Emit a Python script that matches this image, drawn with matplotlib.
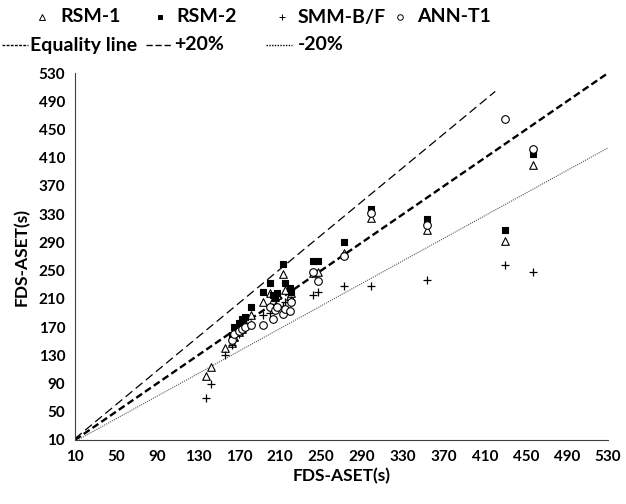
import matplotlib
matplotlib.use("Agg")
import matplotlib.pyplot as plt
from matplotlib.lines import Line2D

plt.rcParams['font.family'] = ['Lato', 'DejaVu Sans']
plt.rcParams['font.weight'] = 'bold'

# FDS-ASET (x) and predicted ASET (y) for each model
fds = [138, 143, 156, 163, 165, 170, 173, 176, 182, 193, 200, 203, 205,
       207, 213, 215, 220, 221, 242, 247, 272, 299, 353, 430, 457]
rsm1 = [101, 113, 141, 147, 156, 163, 168, 175, 187, 205, 219, 208, 212,
        215, 245, 222, 214, 218, 247, 248, 275, 324, 307, 292, 400]
rsm2 = [None, None, None, 159, 170, 176, 182, 185, 198, 220, 233, 215, 211,
        218, 259, 232, 226, 220, 264, 264, 290, 338, 323, 308, 415]
smm = [69, 89, 130, 145, 152, 160, 165, 170, 175, 187, 190, 196, 200,
       198, 200, 205, 206, 208, 215, 220, 228, 228, 237, 258, 248]
ann = [None, None, None, 152, 160, 165, 167, 170, 173, 173, 199, 181, 194,
       199, 189, 196, 193, 205, 248, 236, 271, 332, 314, 465, 422]

eq_x = [10, 530]
plus_x = [10, 420]
minus_x = [10, 530]

fig = plt.figure(figsize=(6.26, 5.04), dpi=100)
ax = fig.add_axes([0.1198, 0.127, 0.8514, 0.728])

def pts(vals):
    xs = [x for x, v in zip(fds, vals) if v is not None]
    ys = [v for v in vals if v is not None]
    return xs, ys

ax.plot(eq_x, eq_x, linestyle=(0, (3, 1.5)), color='black', lw=1.7, zorder=2)
ax.plot(plus_x, [v * 1.2 for v in plus_x], linestyle=(0, (7, 3.5)), color='black', lw=0.9, zorder=2)
ax.plot(minus_x, [v * 0.8 for v in minus_x], linestyle=(0, (1, 1)), color='#555555', lw=0.8, zorder=2)

x, y = pts(rsm1)
ax.scatter(x, y, marker='^', s=30, facecolors='white', edgecolors='black', linewidths=0.8, zorder=3)
x, y = pts(rsm2)
ax.scatter(x, y, marker='s', s=22, facecolors='black', edgecolors='black', linewidths=0.8, zorder=3)
x, y = pts(smm)
ax.scatter(x, y, marker='+', s=30, color='black', linewidths=0.9, zorder=3)
x, y = pts(ann)
ax.scatter(x, y, marker='o', s=30, facecolors='white', edgecolors='black', linewidths=0.8, zorder=3)

ticks = list(range(10, 531, 40))
ax.set_xlim(10, 530)
ax.set_ylim(10, 530)
ax.set_xticks(ticks)
ax.set_yticks(ticks)
ax.tick_params(labelsize=11, length=0, pad=7)
for lab in ax.get_xticklabels() + ax.get_yticklabels():
    lab.set_fontweight('bold')
for s in ['top', 'right']:
    ax.spines[s].set_visible(False)
ax.spines['left'].set_color('#404040')
ax.spines['bottom'].set_color('#404040')
ax.set_xlabel('FDS-ASET(s)', fontsize=12.5, fontweight='bold', labelpad=3)
ax.set_ylabel('FDS-ASET(s)', fontsize=12.5, fontweight='bold', labelpad=6)

W, H = 626.0, 504.0
def fx(px):
    return px / W
def fy(py):
    return 1 - py / H

# legend row 1 (markers)
row1_y = 17
leg1 = [('^', 'white', 42, 60, 'RSM-1'), ('s', 'black', 160, 176, 'RSM-2'),
        ('+', 'black', 282, 298, 'SMM-B/F'), ('o', 'white', 400, 417, 'ANN-T1')]
for m, fc, mx, tx, lab in leg1:
    fig.add_artist(Line2D([fx(mx)], [fy(row1_y)], marker=m, ls='none', mfc=fc, mec='black',
                          color='black', ms=4 if m != 's' else 3.5, mew=0.7,
                          transform=fig.transFigure))
    fig.text(fx(tx), fy(row1_y), lab, fontsize=14, fontweight='bold', va='center', ha='left')

# legend row 2 (lines)
row2_y = 45
leg2 = [((0, (2, 1)), 2, 28, 30, 'Equality line'), ((0, (4.5, 2)), 146, 172, 174, '+20%'),
        ((0, (1, 1)), 266, 292, 298, '-20%')]
for ls, x0, x1, tx, lab in leg2:
    fig.add_artist(Line2D([fx(x0), fx(x1)], [fy(row2_y), fy(row2_y)], ls=ls, color='black',
                          lw=1, transform=fig.transFigure))
    fig.text(fx(tx), fy(row2_y), lab, fontsize=14, fontweight='bold', va='center', ha='left')

fig.savefig('out.png', dpi=100)
